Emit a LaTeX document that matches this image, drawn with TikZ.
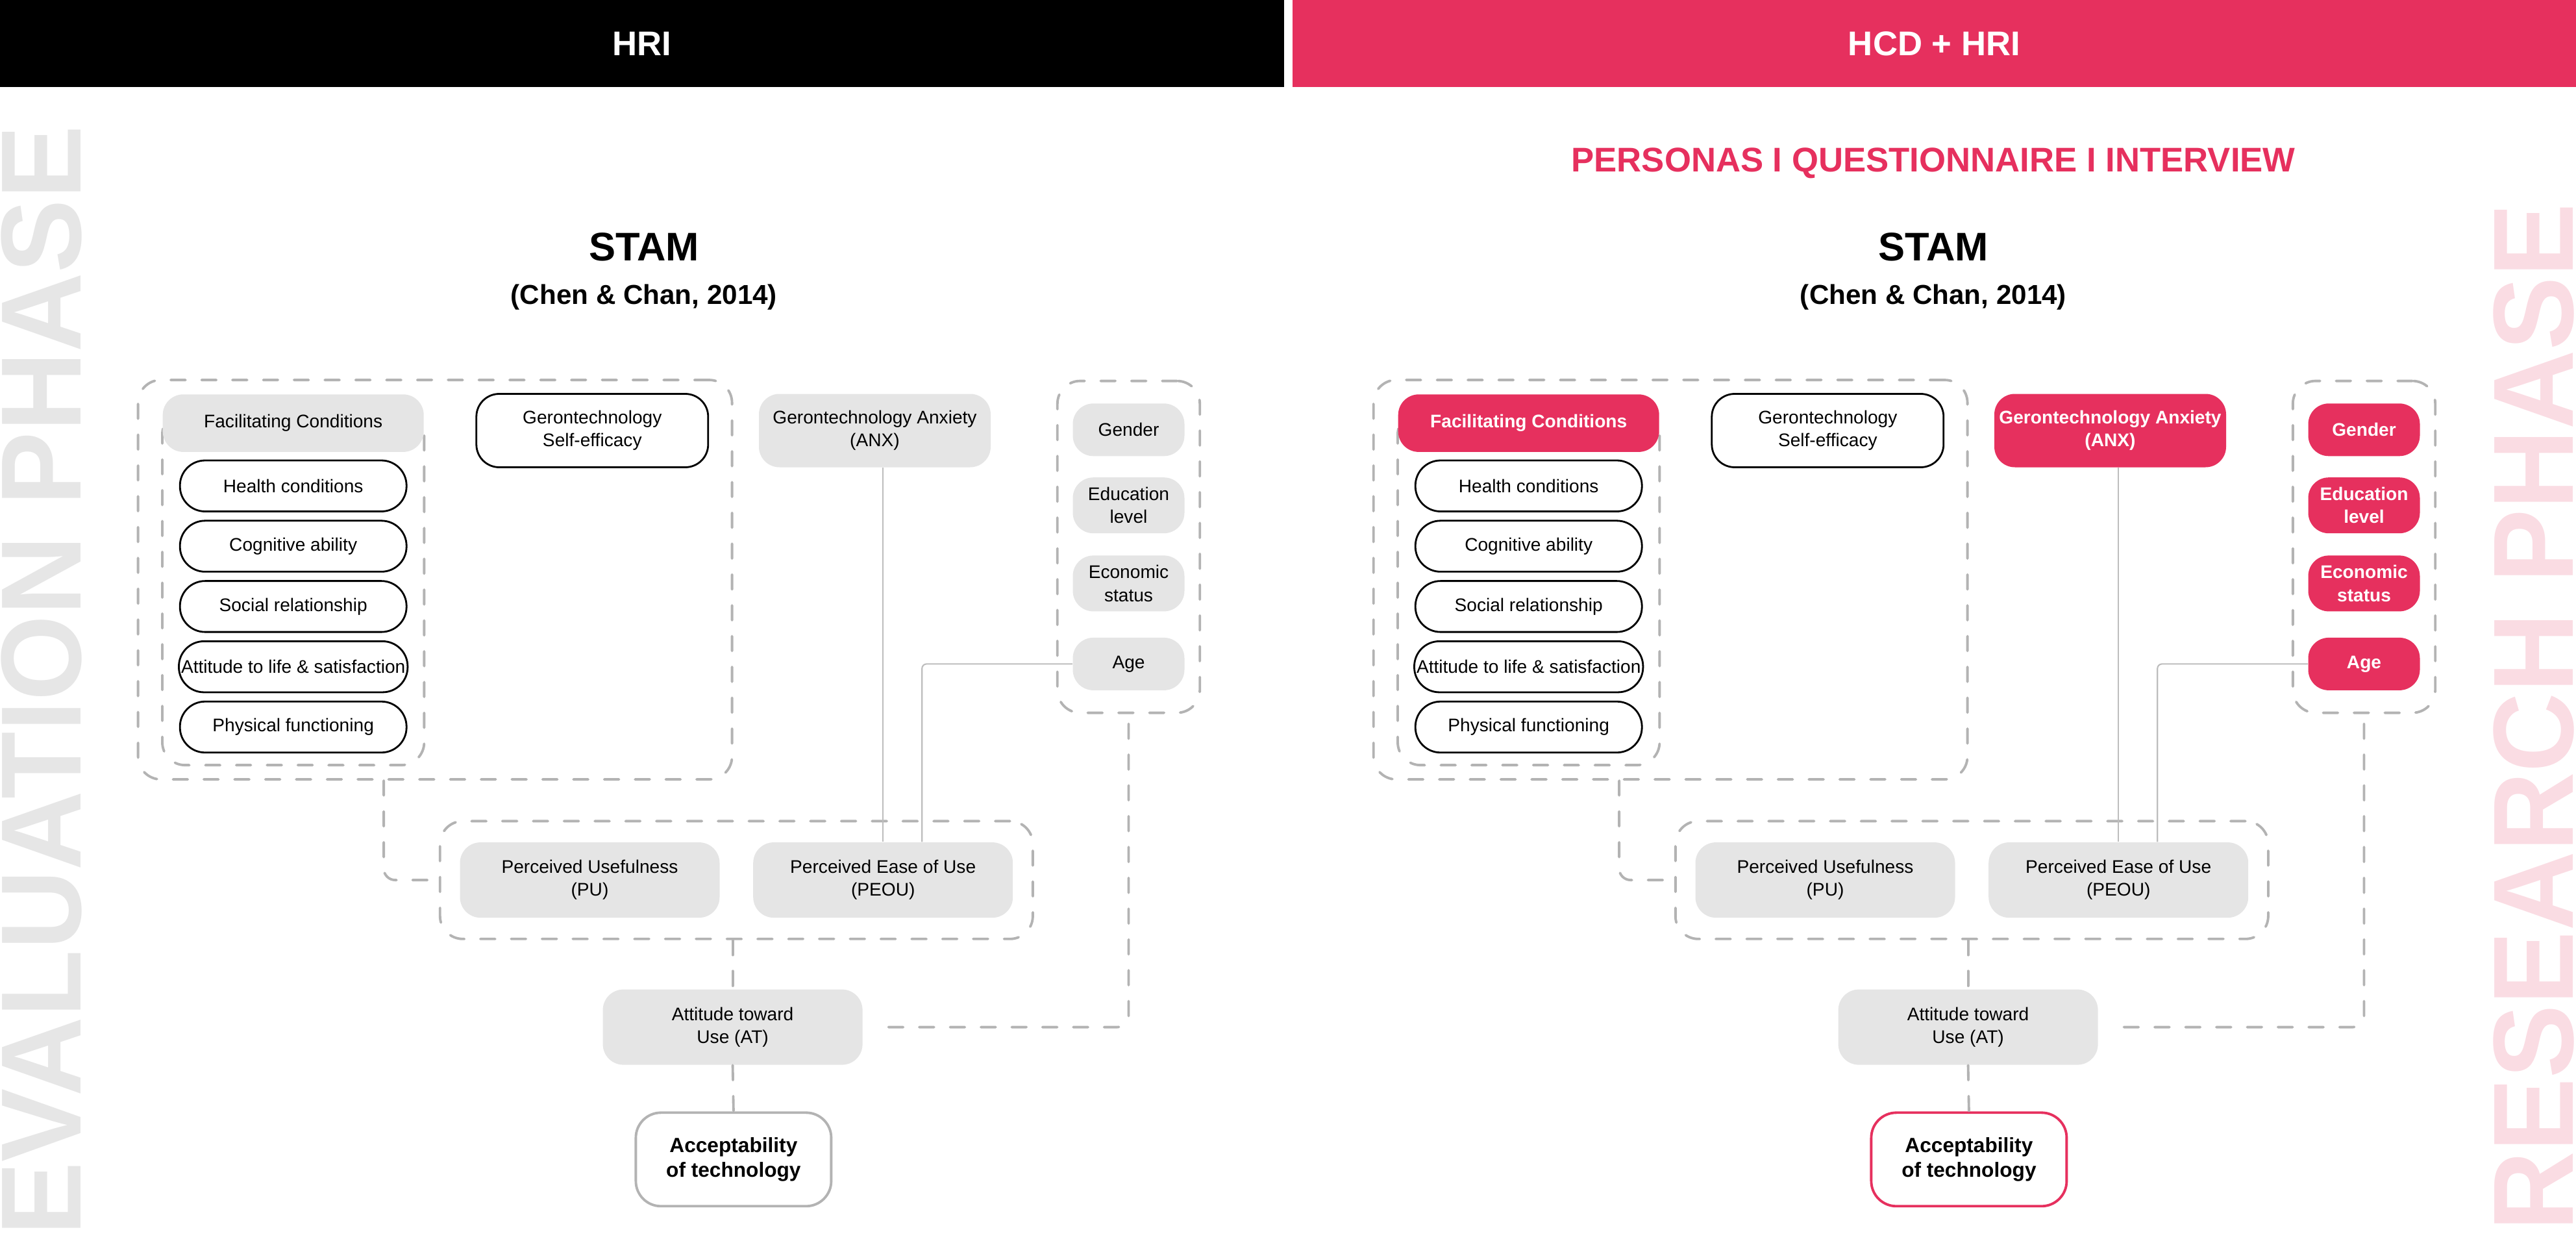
\documentclass[tikz,border=0pt]{standalone}
\usepackage{fontspec}
\setmainfont{Liberation Sans}
\usepackage{graphicx}
\usetikzlibrary{positioning,fit,backgrounds}
\definecolor{pinkmain}{HTML}{E6305E}
\definecolor{pinksoft}{HTML}{FADCE3}
\definecolor{greyfill}{HTML}{E5E5E5}
\definecolor{sidegrey}{HTML}{E6E6E6}
\definecolor{dashgrey}{HTML}{B3B3B3}
\definecolor{linegrey}{HTML}{BDBDBD}

\begin{document}
\begin{tikzpicture}[
  y=-1cm,
  every node/.style={font=\fontsize{8}{10}\selectfont},
  box/.style={rectangle, rounded corners=9pt, align=center, inner sep=2pt},
  hl/.style={box, fill=\fc, text=\tc, font=\fontsize{8}{10}\selectfont\fw},
  greybox/.style={box, fill=greyfill, text=black},
  pill/.style={box, draw=black, line width=0.8pt, fill=white, rounded corners=11pt,
               inner xsep=1pt, minimum width=3.49cm, minimum height=0.785cm},
  dashln/.style={draw=dashgrey, line width=1.1pt, dash pattern=on 6.5pt off 7pt, line cap=round},
  grp/.style={dashln, rounded corners=10pt},
  link/.style={draw=linegrey, line width=0.6pt},
  hdr/.style={rectangle, inner sep=0pt, minimum height=1.34cm, text=white,
              font=\fontsize{15}{18}\selectfont\bfseries},
  sidetxt/.style={rotate=90, inner sep=0pt, font=\fontsize{50}{60}\selectfont\bfseries}
]
\useasboundingbox (0,0) rectangle (39.68,19.14);
\clip (0,0) rectangle (39.68,19.14);

% ---- Side labels ----
\node[sidetxt, text=sidegrey, anchor=north east] (evalTxt) at (0.01,1.93) {\scalebox{0.965}[1]{EVALUATION PHASE}};
\node[sidetxt, text=pinksoft, anchor=south east] (resTxt) at (39.66,3.12) {\scalebox{0.965}[1]{RESEARCH PHASE}};

% ---- Header bars ----
\node[hdr, fill=black, minimum width=19.78cm] (hdrL) at (9.89,0.67) {HRI};
\node[hdr, fill=pinkmain, minimum width=19.77cm] (hdrR) at (29.795,0.67) {HCD + HRI};
\node[anchor=base, text=pinkmain, font=\fontsize{15}{18}\selectfont\bfseries] (methods) at (29.78,2.65) {PERSONAS I QUESTIONNAIRE I INTERVIEW};

% ---- Titles ----
\foreach \x/\p in {9.92/L, 29.78/R} {
  \node[anchor=base, font=\fontsize{17.5}{21}\selectfont\bfseries] (stam\p) at (\x,4.01) {STAM};
  \node[anchor=base, font=\fontsize{12}{14}\selectfont\bfseries] (cite\p) at (\x,4.68) {(Chen \& Chan, 2014)};
}

% ---- STAM panels ----
\foreach \p/\dx/\fc/\tc/\fw/\ac in {L/0/greyfill/black/\mdseries/dashgrey, R/19.03/pinkmain/white/\bfseries/pinkmain} {
\begin{scope}[xshift=\dx cm]
  \node[hl, minimum width=4.02cm, minimum height=0.886cm] (FC\p) at (4.517,6.516) {Facilitating Conditions};
  \node[pill, below=0.11cm of FC\p] (health\p) {Health conditions};
  \node[pill, below=0.115cm of health\p] (cogn\p) {Cognitive ability};
  \node[pill, below=0.115cm of cogn\p] (social\p) {Social relationship};
  \node[pill, below=0.115cm of social\p] (life\p) {Attitude to life \& satisfaction};
  \node[pill, below=0.115cm of life\p] (phys\p) {Physical functioning};

  \node[box, draw=black, line width=0.8pt, fill=white, rounded corners=10pt,
        minimum width=3.57cm, minimum height=1.13cm] (GSE\p) at (9.123,6.63) {Gerontechnology\\Self-efficacy};
  \node[hl, minimum width=3.57cm, minimum height=1.13cm] (ANX\p) at (13.475,6.63) {Gerontechnology Anxiety\\(ANX)};

  \node[hl, minimum width=1.72cm, minimum height=0.81cm] (gender\p) at (17.385,6.618) {Gender};
  \node[hl, minimum width=1.72cm, minimum height=0.86cm] (edu\p) at (17.385,7.782) {Education\\level};
  \node[hl, minimum width=1.72cm, minimum height=0.86cm] (econ\p) at (17.385,8.984) {Economic\\status};
  \node[hl, minimum width=1.72cm, minimum height=0.81cm] (age\p) at (17.385,10.224) {Age};

  \node[greybox, minimum width=4.0cm, minimum height=1.16cm] (PU\p) at (9.085,13.551) {Perceived Usefulness\\(PU)};
  \node[greybox, minimum width=4.0cm, minimum height=1.16cm] (PEOU\p) at (13.602,13.551) {Perceived Ease of Use\\(PEOU)};
  \node[greybox, minimum width=4.0cm, minimum height=1.16cm] (AT\p) at (11.286,15.816) {Attitude toward\\Use (AT)};
  \node[box, draw=\ac, line width=1.1pt, fill=white, rounded corners=11pt, minimum width=3.01cm,
        minimum height=1.44cm, font=\fontsize{9}{11}\selectfont\bfseries] (acc\p) at (11.299,17.853) {Acceptability\\of technology};

  \begin{pgfonlayer}{background}
  \node[grp, fit=(FC\p.west)(FC\p.east)(phys\p), inner xsep=0pt, inner ysep=0.18cm] (grpFC\p) {};
  \node[grp, fit=(grpFC\p)(GSE\p), inner xsep=0.354cm, inner ysep=0.2cm] (grpOut\p) {};
  \node[grp, fit=(gender\p)(age\p), inner xsep=0.23cm, inner ysep=0.34cm] (grpDemo\p) {};
  \node[grp, fit=(PU\p)(PEOU\p), inner xsep=0.3cm, inner ysep=0.32cm] (grpPU\p) {};
  \end{pgfonlayer}

  \draw[link] (ANX\p.south -| PEOU\p.north) -- (PEOU\p.north);
  \draw[link, rounded corners=2pt] (age\p.west) -| ([xshift=0.6cm]PEOU\p.north);
  \draw[dashln, rounded corners=5pt] ([xshift=-0.79cm]grpOut\p.south) |- (grpPU\p.west);
  \draw[dashln] (AT\p.north |- grpPU\p.south) -- (AT\p.north);
  \draw[dashln] (AT\p.south) -- (acc\p.north);
  \draw[dashln, rounded corners=5pt, shorten <=0.15cm, shorten >=0.25cm] (grpDemo\p.south) |- (AT\p.east);
\end{scope}
}

\end{tikzpicture}
\end{document}
